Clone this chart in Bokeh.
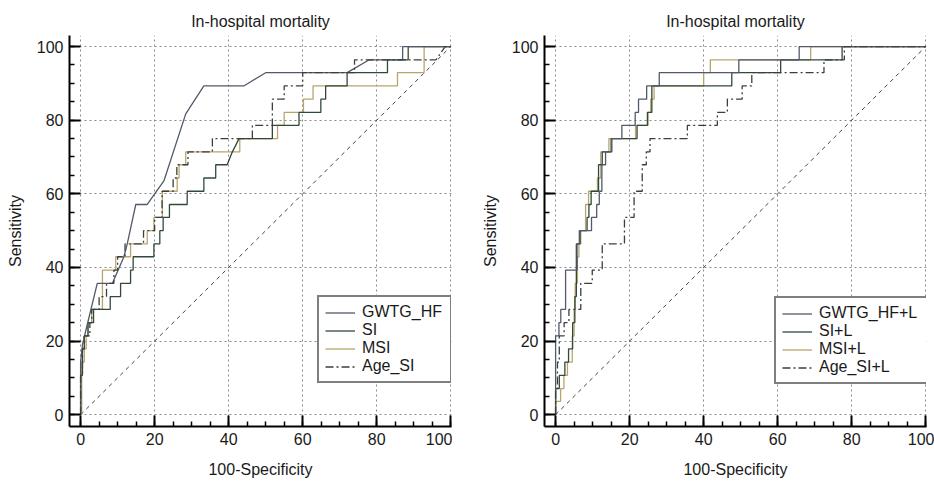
from bokeh.plotting import figure
from bokeh.models import Range1d, SingleIntervalTicker, Legend, LegendItem
from bokeh.layouts import row
from bokeh.embed import file_html
from bokeh.resources import INLINE

TITLE = "In-hospital mortality"
X_LABEL = "100-Specificity"
Y_LABEL = "Sensitivity"

diag_x = [0, 100]
diag_y = [0, 100]

left_names = ["GWTG_HF", "SI", "MSI", "Age_SI"]
right_names = ["GWTG_HF+L", "SI+L", "MSI+L", "Age_SI+L"]

# ---- left panel ROC curves: (100-specificity, sensitivity) vertices ----
gwtg_hf = [(0, 0), (0, 14.3), (0.5, 19.0), (1.8, 24.5), (4.5, 35.7), (8.6, 35.7), (11.7, 42.9),
           (12.6, 46.4), (14.9, 57.1), (18.0, 57.1), (22.5, 63.5), (28.4, 81.7), (33.3, 89.3),
           (44.1, 89.3), (50.0, 92.9), (72.0, 92.9), (78.0, 96.4), (87.0, 96.4), (87.0, 100), (100, 100)]

si = [(0, 0), (0, 10.7), (0.5, 10.7), (0.5, 17.9), (1, 17.9), (1, 21.4), (2, 21.4), (2, 25),
      (3.5, 25), (3.5, 28.6), (8, 28.6), (8, 32.1), (10.8, 32.1), (10.8, 35.7), (13.5, 35.7),
      (13.5, 39.3), (14.2, 39.3), (14.2, 42.9), (19.8, 42.9), (19.8, 46.4), (21.4, 46.4), (21.4, 50),
      (22.3, 50), (22.3, 53.6), (24, 53.6), (24, 57.1), (28.8, 57.1), (28.8, 60.7), (33.3, 60.7),
      (33.3, 64.3), (36.5, 64.3), (36.5, 67.9), (39.6, 67.9), (41, 71.4), (42.8, 75), (51.8, 75),
      (51.8, 78.6), (59, 78.6), (59, 82.1), (64.9, 82.1), (64.9, 85.7), (66.2, 85.7), (66.2, 89.3),
      (72, 89.3), (72, 92.9), (82.9, 92.9), (82.9, 96.4), (88.5, 96.4), (88.5, 100), (100, 100)]

msi = [(0, 0), (0.3, 0), (0.3, 14.3), (1, 14.3), (1, 17.9), (1.5, 17.9), (1.5, 21.4), (2, 21.4),
       (2, 25), (3, 25), (3, 28.6), (5.9, 28.6), (5.9, 39.3), (9.5, 39.3), (9.5, 42.9), (13.5, 42.9),
       (13.5, 46.4), (18, 46.4), (18, 50), (19.8, 50), (19.8, 53.6), (22.1, 53.6), (22.1, 60.7),
       (26.1, 60.7), (26.1, 64.3), (26.6, 64.3), (26.6, 67.9), (28.4, 67.9), (28.4, 71.4), (43, 71.4),
       (43, 75), (53.2, 75), (53.2, 78.6), (55, 78.6), (55, 82.1), (60.2, 82.1), (60.2, 85.7),
       (62.8, 85.7), (62.8, 89.3), (85.6, 89.3), (85.6, 92.9), (92.8, 92.9), (92.8, 100), (100, 100)]

age_si = [(0, 0), (0, 10.7), (0.5, 10.7), (0.5, 17.9), (1, 17.9), (1, 21.4), (2.5, 21.4), (2.5, 25),
          (3, 25), (3, 28.6), (5, 28.6), (5, 32.1), (7, 32.1), (7, 35.7), (9, 35.7), (9, 39.3),
          (10, 39.3), (10, 42.9), (12, 42.9), (12, 46.4), (17, 46.4), (17, 50), (20, 50), (20, 53.6),
          (22, 53.6), (22, 60.7), (25, 60.7), (25, 64.3), (26, 64.3), (26, 67.9), (29, 67.9),
          (29, 71.4), (35.6, 71.4), (35.6, 75), (46.4, 75), (46.4, 78.6), (51.8, 78.6), (51.8, 85.7),
          (55, 85.7), (55, 89.3), (60, 89.3), (60, 92.9), (74, 92.9), (74, 96.4), (96, 96.4),
          (98.5, 100), (100, 100)]

# ---- right panel ROC curves ----
gwtg_hf_l = [(0, 0), (0, 21.4), (0.9, 21.4), (0.9, 25), (1.4, 25), (1.4, 28.6), (2.7, 28.6),
             (2.7, 39.3), (5.8, 39.3), (5.8, 46.4), (6.4, 46.4), (6.4, 50), (9.7, 50), (9.7, 53.6),
             (11.1, 53.6), (11.1, 57.1), (11.8, 57.1), (11.8, 60.7), (12.5, 60.7), (12.5, 67.9),
             (13.5, 67.9), (13.5, 71.4), (15.2, 71.4), (15.2, 75), (17.9, 75), (17.9, 78.6),
             (21.5, 78.6), (21.5, 82.1), (22.4, 82.1), (22.4, 85.7), (24.6, 85.7), (24.6, 89.3),
             (28, 89.3), (28, 92.9), (49.5, 92.9), (49.5, 96.4), (65.8, 96.4), (65.8, 100), (100, 100)]

si_l = [(0, 0), (0, 7.1), (1, 7.1), (1, 10.7), (2.5, 10.7), (2.5, 14.3), (3.5, 14.3), (3.5, 17.9),
        (4.6, 17.9), (4.6, 25), (5.2, 25), (5.2, 32.1), (5.6, 32.1), (5.6, 46.4), (6.6, 46.4),
        (6.6, 50), (8.5, 50), (8.5, 53.6), (9, 53.6), (9, 57.1), (9.6, 57.1), (9.6, 60.7),
        (11.6, 60.7), (11.6, 67.9), (12.6, 67.9), (12.6, 71.4), (15, 71.4), (15, 75), (22, 75),
        (22, 78.6), (24.8, 78.6), (24.8, 82.1), (26, 82.1), (26, 89.3), (47.6, 89.3), (47.6, 92.9),
        (60.8, 92.9), (60.8, 96.4), (77.4, 96.4), (77.4, 100), (100, 100)]

msi_l = [(0, 0), (0, 3.6), (1.35, 3.6), (1.35, 7.1), (2.25, 7.1), (2.25, 10.7), (3.2, 10.7),
         (3.2, 14.3), (4.5, 14.3), (4.5, 21.4), (5, 21.4), (5, 28.6), (5.3, 28.6), (5.3, 35.7),
         (5.9, 35.7), (5.9, 42.9), (6.3, 42.9), (6.3, 46.4), (6.8, 46.4), (6.8, 50), (8.1, 50),
         (8.1, 57.1), (8.9, 57.1), (8.9, 60.7), (11.3, 60.7), (11.3, 64.3), (12.2, 64.3),
         (12.2, 71.4), (14.4, 71.4), (14.4, 75), (21.6, 75), (21.6, 78.6), (25, 78.6), (25, 82.1),
         (25.7, 82.1), (25.7, 85.7), (26.6, 85.7), (26.6, 89.3), (40, 89.3), (40, 92.9),
         (41.8, 92.9), (41.8, 96.4), (68.9, 96.4), (68.9, 100), (100, 100)]

age_si_l = [(0, 0), (0, 7.1), (0.5, 7.1), (0.5, 14.3), (1, 14.3), (1, 21.4), (2.3, 21.4),
            (2.3, 25), (3.6, 25), (3.6, 28.6), (6.8, 28.6), (6.8, 35.7), (9.9, 35.7), (9.9, 39.3),
            (12.6, 39.3), (12.6, 46.4), (18.6, 46.4), (18.6, 53.6), (21.2, 53.6), (21.2, 60.7),
            (23.4, 60.7), (23.4, 67.9), (24.5, 67.9), (24.5, 71.4), (25.5, 71.4), (25.5, 75),
            (35.6, 75), (35.6, 78.6), (43.7, 78.6), (43.7, 82.1), (46.4, 82.1), (46.4, 85.7),
            (50.4, 85.7), (50.4, 89.3), (53, 89.3), (53, 92.9), (72.5, 92.9), (72.5, 96.4),
            (78, 96.4), (78, 100), (100, 100)]

COLORS = ["#505a6a", "#30493a", "#bba46c", "#3a403c"]
DASHES = ["solid", "solid", "solid", "8 3 2 3"]
FONT = "Liberation Sans"
TXT = "#1a1a1a"


def make_panel(curves, names, width, mbl, mbr, mbt, mbb, leg_loc, label_w):
    p = figure(width=width, height=481, output_backend="svg", toolbar_location=None,
               x_range=Range1d(-3, 100.2), y_range=Range1d(-3.2, 103),
               min_border_left=mbl, min_border_right=mbr, min_border_top=mbt,
               min_border_bottom=mbb, background_fill_color="white",
               border_fill_color="white")
    p.outline_line_color = None
    p.title.text = TITLE
    p.title.align = "center"
    p.title.text_font = FONT
    p.title.text_font_size = "16px"
    p.title.text_font_style = "normal"
    p.title.text_color = TXT
    p.title.standoff = 11

    for ax, lab in ((p.xaxis[0], X_LABEL), (p.yaxis[0], Y_LABEL)):
        ax.ticker = SingleIntervalTicker(interval=20, num_minor_ticks=4)
        ax.axis_label = lab
        ax.axis_label_text_font = FONT
        ax.axis_label_text_font_size = "16px"
        ax.axis_label_text_font_style = "normal"
        ax.axis_label_text_color = TXT
        ax.major_label_text_font = FONT
        ax.major_label_text_font_size = "16px"
        ax.major_label_text_color = TXT
        ax.axis_line_color = "black"
        ax.axis_line_width = 2
        ax.major_tick_in = 11
        ax.major_tick_out = 0
        ax.minor_tick_in = 5
        ax.minor_tick_out = 0
        ax.major_tick_line_color = "black"
        ax.major_tick_line_width = 2
        ax.minor_tick_line_color = "black"
        ax.minor_tick_line_width = 1.5
        ax.major_label_standoff = 6
    p.xaxis.axis_label_standoff = 13
    p.yaxis.axis_label_standoff = 10

    for g in (p.xgrid[0], p.ygrid[0]):
        g.grid_line_color = "#8a8a8a"
        g.grid_line_dash = "2 3"
        g.grid_line_width = 1

    p.line(diag_x, diag_y, line_color="#444444", line_width=1, line_dash="4 4")

    rends = [None] * 4
    for i in (2, 1, 0, 3):
        xs = [pt[0] for pt in curves[i]]
        ys = [pt[1] for pt in curves[i]]
        rends[i] = p.line(xs, ys, line_color=COLORS[i], line_width=1.3,
                          line_dash=DASHES[i])

    legend = Legend(items=[LegendItem(label=names[i], renderers=[rends[i]]) for i in range(4)],
                    location=leg_loc)
    legend.border_line_color = "black"
    legend.border_line_width = 2
    legend.background_fill_color = "white"
    legend.background_fill_alpha = 1
    legend.padding = 6
    legend.spacing = 0
    legend.margin = 0
    legend.glyph_width = 30
    legend.glyph_height = 17
    legend.label_height = 17
    legend.label_width = label_w
    legend.label_standoff = 7
    legend.label_text_font = FONT
    legend.label_text_font_size = "16px"
    legend.label_text_color = TXT
    p.add_layout(legend)
    return p


p1 = make_panel([gwtg_hf, si, msi, age_si], left_names, 452, 69, 1, 33, 55, (248, 43), 82)
p2 = make_panel([gwtg_hf_l, si_l, msi_l, age_si_l], right_names, 482, 92, 8, 35, 53, (230, 42), 101)

p = row(p1, p2)
open("out.html", "w").write(file_html(p, INLINE))
